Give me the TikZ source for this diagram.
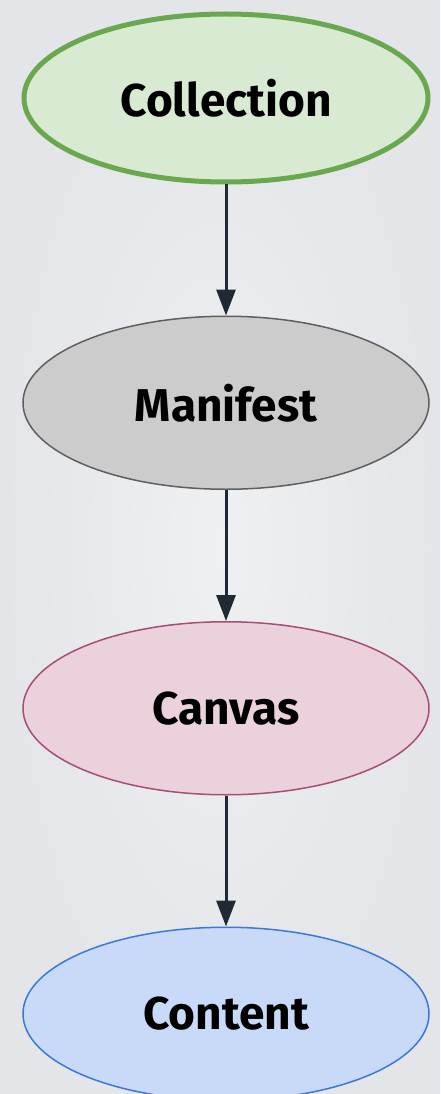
\documentclass[tikz,border=0pt]{standalone}
\usepackage{fontspec}
\setmainfont{Fira Sans}
\usetikzlibrary{shapes.geometric, arrows.meta, positioning}

\definecolor{bgin}{HTML}{EEF0F2}
\definecolor{bgout}{HTML}{E3E5E8}
\definecolor{arrowcol}{HTML}{1F2A36}
\definecolor{colfill}{HTML}{D9EAD3}
\definecolor{colline}{HTML}{6AA84F}
\definecolor{manfill}{HTML}{CCCCCC}
\definecolor{manline}{HTML}{5F5F5F}
\definecolor{canfill}{HTML}{EAD1DC}
\definecolor{canline}{HTML}{A64D79}
\definecolor{conffill}{HTML}{C9DAF8}
\definecolor{conline}{HTML}{3C78D8}

\begin{document}
\begin{tikzpicture}[
    font=\bfseries\fontsize{46}{54}\selectfont,
    node distance=131pt,
    oval/.style={draw, ellipse, minimum width=406pt, minimum height=173pt, align=center, text=black, line width=1.5pt},
    collection/.style={oval, fill=colfill, draw=colline, minimum width=404pt, minimum height=168pt, line width=5pt},
    manifest/.style={oval, fill=manfill, draw=manline},
    canvasnode/.style={oval, fill=canfill, draw=canline},
    contentnode/.style={oval, fill=conffill, draw=conline},
    arrow/.style={-{Triangle[width=19pt, length=26pt]}, line width=3pt, draw=arrowcol}
]

% Background and frame
\fill[inner color=bgin, outer color=bgout] (0pt,0pt) rectangle (440pt,-1094pt);
\useasboundingbox (0pt,0pt) rectangle (440pt,-1094pt);

% Nodes
\node[collection] (collection) at (226pt,-98pt) {Collection};
\node[manifest, below=of collection] (manifest) {Manifest};
\node[canvasnode, below=of manifest] (canvas) {Canvas};
\node[contentnode, below=of canvas] (content) {Content};

% Connections
\draw[arrow] (collection) -- (manifest);
\draw[arrow] (manifest) -- (canvas);
\draw[arrow] (canvas) -- (content);

\end{tikzpicture}
\end{document}
